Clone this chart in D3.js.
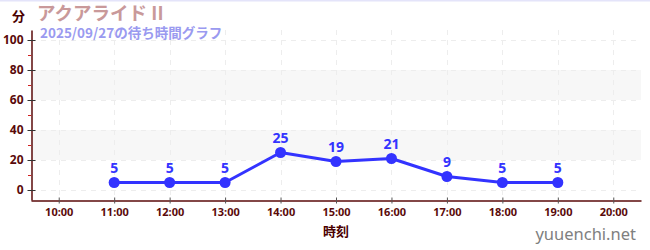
<!DOCTYPE html>
<html>
<head>
<meta charset="utf-8">
<script src="https://cdn.jsdelivr.net/npm/d3@7"></script>
<style>
  html, body { margin: 0; padding: 0; background: #fff; }
  svg { display: block; font-family: "Noto Sans CJK JP", "Noto Sans", sans-serif; }
</style>
</head>
<body>
<svg id="chart" width="650" height="250"></svg>
<script>
// Wait times for the day, one point per hour
const hours = ["11:00", "12:00", "13:00", "14:00", "15:00", "16:00", "17:00", "18:00", "19:00"];
const waits = [5, 5, 5, 25, 19, 21, 9, 5, 5];
const xTickLabels = ["10:00", "11:00", "12:00", "13:00", "14:00", "15:00", "16:00", "17:00", "18:00", "19:00", "20:00"];
const yTicks = [0, 20, 40, 60, 80, 100];
const yMinorTicks = [10, 30, 50, 70, 90];
const bands = [[20, 40], [60, 80]];

const title = "アクアライド II";
const subtitle = "2025/09/27の待ち時間グラフ";

const svg = d3.select("#chart");
const W = 650, H = 250;
const plot = { left: 31, right: 641, top: 30, bottom: 200 };

const toHour = s => { const [h, m] = s.split(":").map(Number); return h + m / 60; };

const x = d3.scaleLinear().domain([9.5, 20.5]).range([plot.left, plot.right]);
const y = d3.scaleLinear().domain([-20 / 3, 320 / 3]).range([plot.bottom, plot.top]);

// thin top rule
svg.append("rect").attr("x", 0).attr("y", 0).attr("width", W).attr("height", 1.5).attr("fill", "#e4e4fa");

// alternating bands
svg.selectAll("rect.band").data(bands).join("rect")
  .attr("class", "band")
  .attr("x", plot.left + 1).attr("width", plot.right - plot.left - 1)
  .attr("y", d => y(d[1])).attr("height", d => y(d[0]) - y(d[1]))
  .attr("fill", "#f7f7f7");

// dashed grid
const grid = svg.append("g").attr("stroke", "#ededed").attr("stroke-width", 1).attr("stroke-dasharray", "5,5");
grid.selectAll("line.h").data(yTicks).join("line")
  .attr("x1", plot.left).attr("x2", plot.right)
  .attr("y1", d => Math.round(y(d)) + 0.5).attr("y2", d => Math.round(y(d)) + 0.5);
grid.selectAll("line.v").data(xTickLabels).join("line")
  .attr("x1", d => Math.round(x(toHour(d))) + 0.5).attr("x2", d => Math.round(x(toHour(d))) + 0.5)
  .attr("y1", plot.top).attr("y2", plot.bottom);

const axisColor = "#5a0a0a";

// y axis
const yAxis = svg.append("g").attr("transform", `translate(${plot.left + 0.5},0)`)
  .call(d3.axisLeft(y).tickValues(yTicks).tickSize(4).tickSizeOuter(0).tickPadding(4));
yAxis.select(".domain").attr("stroke", axisColor).attr("stroke-width", 1.5);
yAxis.selectAll(".tick line").attr("stroke", "#333").attr("x2", 4).attr("x1", -4);
yAxis.selectAll(".tick text").attr("fill", axisColor).attr("font-size", 12).attr("font-weight", "bold")
  .attr("font-family", "Noto Sans, sans-serif");

// minor y ticks
svg.append("g").selectAll("line").data(yMinorTicks).join("line")
  .attr("x1", plot.left - 3).attr("x2", plot.left)
  .attr("y1", d => Math.round(y(d)) + 0.5).attr("y2", d => Math.round(y(d)) + 0.5)
  .attr("stroke", "#d02020").attr("stroke-width", 1);

// x axis
const xAxis = svg.append("g").attr("transform", `translate(0,${plot.bottom + 0.5})`)
  .call(d3.axisBottom(x).tickValues(xTickLabels.map(toHour)).tickFormat((d, i) => xTickLabels[i])
    .tickSize(3).tickSizeOuter(0).tickPadding(5));
xAxis.select(".domain").attr("stroke", axisColor).attr("stroke-width", 1.5);
xAxis.selectAll(".tick line").attr("stroke", "#555").attr("y1", -3).attr("y2", 3);
xAxis.selectAll(".tick text").attr("fill", axisColor).attr("font-size", 11).attr("font-weight", "bold")
  .attr("font-family", "Noto Sans, sans-serif");

// axis titles
svg.append("text").attr("x", 12).attr("y", 21).text("分")
  .attr("fill", "#4a0000").attr("font-size", 13).attr("font-weight", "bold");
svg.append("text").attr("x", (plot.left + plot.right) / 2).attr("y", 236).attr("text-anchor", "middle").text("時刻")
  .attr("fill", "#4a0000").attr("font-size", 13).attr("font-weight", "bold");

// titles
svg.append("text").attr("x", 37).attr("y", 20).text(title)
  .attr("fill", "#c9999a").attr("font-size", 18.5).attr("font-weight", "bold");
svg.append("text").attr("x", 40).attr("y", 37.5).text(subtitle)
  .attr("fill", "#9a9af0").attr("font-size", 13.5).attr("font-weight", "bold");

// series
const pts = hours.map((h, i) => ({ h: toHour(h), v: waits[i] }));
const blue = "#3333ff";
svg.append("path").datum(pts)
  .attr("fill", "none").attr("stroke", blue).attr("stroke-width", 3).attr("stroke-linejoin", "round")
  .attr("d", d3.line().x(d => x(d.h)).y(d => y(d.v)));
svg.selectAll("circle.pt").data(pts).join("circle")
  .attr("class", "pt")
  .attr("cx", d => x(d.h)).attr("cy", d => y(d.v)).attr("r", 5.5).attr("fill", blue);
svg.selectAll("text.val").data(pts).join("text")
  .attr("class", "val")
  .attr("x", d => x(d.h)).attr("y", d => y(d.v) - 10)
  .attr("text-anchor", "middle").text(d => d.v)
  .attr("fill", blue).attr("font-size", 14).attr("font-weight", "bold")
  .attr("font-family", "Noto Sans, sans-serif");

// site mark
svg.append("text").attr("x", 636).attr("y", 240).attr("text-anchor", "end").text("yuuenchi.net")
  .attr("fill", "#808080").attr("font-size", 16.5).attr("font-family", "Noto Sans, sans-serif");
</script>
</body>
</html>
